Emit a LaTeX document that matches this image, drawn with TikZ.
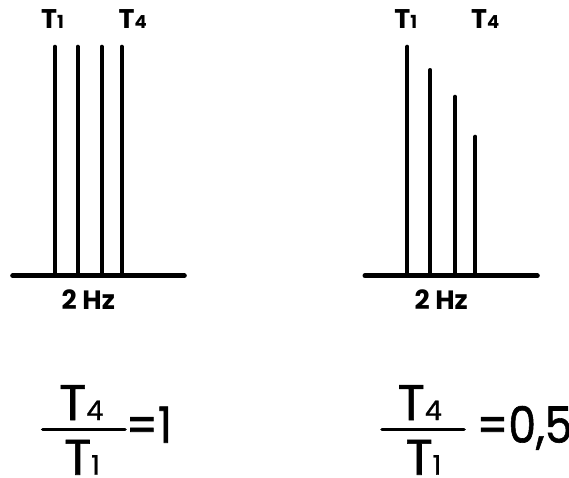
\documentclass[tikz,border=0pt]{standalone}
\usepackage{fontspec}
\usepackage{graphicx}
\setmainfont{Poppins}
\newcommand{\subd}[2]{{\fontsize{#1}{#1}\selectfont #2}}
\begin{document}
\begin{tikzpicture}[x=1pt,y=-1pt,
  peak/.style={line width=4pt,line cap=round},
  axis/.style={line width=5pt,line cap=round},
  fbar/.style={line width=3.6pt,line cap=round},
  toplab/.style={inner sep=0pt,anchor=base,font=\fontsize{27}{27}\selectfont\bfseries},
  hzlab/.style={inner sep=0pt,anchor=base,font=\fontsize{26.5}{26.5}\selectfont\bfseries},
  big/.style={inner sep=0pt,anchor=base,font=\fontsize{50}{50}\selectfont\addfontfeature{FakeBold=1.2}}]
\useasboundingbox (0,0) rectangle (569,477);
% left panel
\draw[axis] (12.7,275.8) -- (184.3,275.8);
\foreach \x in {55,77.7,101.7,121.7} \draw[peak] (\x,275) -- (\x,46.7);
\node[toplab] (lT1) at (52.5,28.3) {T\subd{18}{1}};
\node[toplab] (lT4) at (132.8,28.3) {T\subd{18}{4}};
\node[hzlab] (lhz) at (88.3,309.3) {2 Hz};
% right panel
\draw[axis] (365,275.8) -- (537.3,275.8);
\draw[peak] (407.3,275) -- (407.3,46.7);
\draw[peak] (430.3,275) -- (430.3,70);
\draw[peak] (455,275) -- (455,96.7);
\draw[peak] (475.3,275) -- (475.3,136.7);
\node[toplab] (rT1) at (405.8,28.3) {T\subd{18}{1}};
\node[toplab] (rT4) at (485.3,28.3) {T\subd{18}{4}};
\node[hzlab] (rhz) at (441.2,309.3) {2 Hz};
% left formula
\draw[fbar] (42.7,429.3) -- (125,429.3);
\node[big] (lnum) at (81.3,420) {T\subd{27}{4}};
\node[big] (lden) at (82,474.7) {T\subd{27}{1}};
\node[big] (leq) at (149,442.7) {\scalebox{0.88}[1]{=1}};
% right formula
\draw[fbar] (382,429.3) -- (464,429.3);
\node[big] (rnum) at (419.8,420) {T\subd{27}{4}};
\node[big] (rden) at (423.5,474.7) {T\subd{27}{1}};
\node[big] (req) at (524.5,442.7) {\scalebox{0.88}[1]{=0,5}};
\end{tikzpicture}
\end{document}
